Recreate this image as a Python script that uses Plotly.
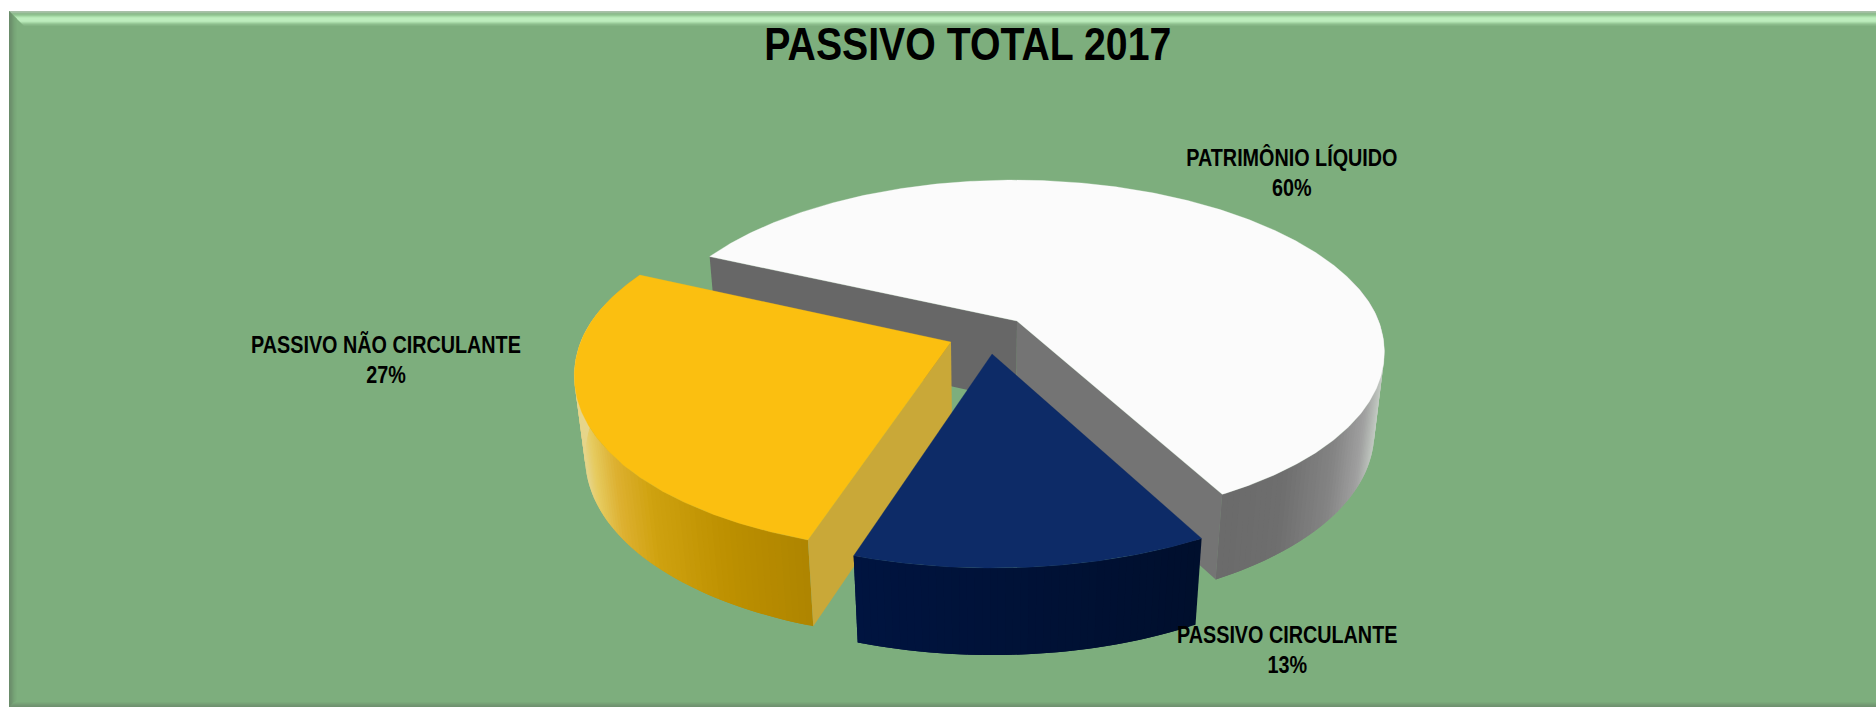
import numpy as np
import plotly.graph_objects as go

# ---- data ----
title_text = "PASSIVO TOTAL 2017"
categories = ["PATRIMÔNIO LÍQUIDO", "PASSIVO CIRCULANTE", "PASSIVO NÃO CIRCULANTE"]
values = [60, 13, 27]

# ---- layout / style ----
W, H = 1876, 707
FONT = "Liberation Sans, Arial, sans-serif"
BG = "#7DAE7D"
label_pos = [(1292, 172), (1287, 650), (386, 359)]
top_colors = ["#FBFBFB", "#0D2B67", "#FBBF10"]
inner_colors = ["#747474", None, "#C9A838"]
back_inner_color = "#676767"
side_stops = [
    [(1213, "#6a6a6a"), (1280, "#6e6e6e"), (1330, "#848484"), (1360, "#a0a0a0"), (1378, "#c4ccc4")],
    [(857, "#001440"), (1195, "#000f2d")],
    [(584, "#E6D58A"), (595, "#E6CB60"), (620, "#DDB030"), (655, "#CFA20F"), (727, "#BD9000"), (812, "#AE8400")],
]
# pie centres on the tilted plane (explosion offsets)
centres = [(0.01287, 0.02622), (0.0005, -0.00353), (-0.0195, 0.00712)]
radius_scale = [0.992, 1.0, 1.0]
START_DEG = 154.6
RX, RY_BACK, RY_FRONT, DEPTH, TAPER = 0.1805, 0.147, 0.1626, 0.048, 0.035
# camera
CX, CY, F = 991.0, 350.0, 2064.0
TILT = np.radians(33.2)
S, C = np.sin(TILT), np.cos(TILT)


def project(X, Y, Z=0.0):
    X, Y = np.asarray(X, float), np.asarray(Y, float)
    yc = Y * S + Z * C
    d = 1.0 + Y * C - Z * S
    return CX + F * X / d, CY - F * yc / d


def hex2rgb(h):
    return np.array([int(h[i:i + 2], 16) for i in (1, 3, 5)], float)


def ramp(stops, x):
    xs = [s[0] for s in stops]
    rgb = np.array([hex2rgb(s[1]) for s in stops])
    c = [np.interp(x, xs, rgb[:, k]) for k in range(3)]
    return "rgb(%d,%d,%d)" % tuple(round(v) for v in c)


def poly(fig, xs, ys, color, lw=0.0):
    fig.add_trace(go.Scatter(
        x=list(xs) + [xs[0]], y=list(ys) + [ys[0]], mode="lines", fill="toself",
        fillcolor=color, line=dict(color=color, width=lw), hoverinfo="skip", showlegend=False))


fig = go.Figure()

# angles derived from the values (clockwise from START_DEG)
total = sum(values)
sweeps = [v / total * 360.0 for v in values]
a0 = START_DEG
arcs = []
for sw in sweeps:
    arcs.append((a0, a0 - sw))
    a0 -= sw


def rim(i, ang):
    cx, cy = centres[i]
    r = np.radians(ang)
    sn = np.sin(r)
    k = radius_scale[i]
    return cx + k * RX * np.cos(r) * (1 - TAPER * sn), cy + k * np.where(sn > 0, RY_BACK, RY_FRONT) * sn


def wall(i, p, q, col):
    X0, Y0 = rim(i, p)
    X1, Y1 = rim(i, q)
    xt, yt = project([X0, X1], [Y0, Y1], 0.0)
    xb, yb = project([X1, X0], [Y1, Y0], -DEPTH)
    poly(fig, [xt[0], xt[1], xb[0], xb[1]], [yt[0], yt[1], yb[0], yb[1]], col)


def flat_wall(i, ang, col):
    cx, cy = centres[i]
    X, Y = rim(i, ang)
    xt, yt = project([cx, X], [cy, Y], 0.0)
    xb, yb = project([X, cx], [Y, cy], -DEPTH)
    poly(fig, [xt[0], xt[1], xb[0], xb[1]], [yt[0], yt[1], yb[0], yb[1]], col)


def draw_slice(i):
    a, b = arcs[i]
    cx, cy = centres[i]
    # outer wall: painted with overlap so no seams show
    n = int(abs(a - b)) + 1
    angs = np.linspace(a, b, n + 1)
    step = abs(a - b) / n
    for p, q in zip(angs[:-1], angs[1:]):
        if not (-206 <= (p + q) / 2 <= 15):
            continue
        X0, Y0 = rim(i, (p + q) / 2)
        sx, _ = project([X0], [Y0], -DEPTH / 2)
        wall(i, p, max(q - step, b), ramp(side_stops[i], float(sx[0])))
    # straight inner walls
    if i == 0:
        flat_wall(i, a, back_inner_color)
        flat_wall(i, b, inner_colors[0])
    if i == 2:
        flat_wall(i, a, inner_colors[2])
    # top face
    angs = np.linspace(a, b, int(abs(a - b)) * 2 + 1)
    X, Y = rim(i, angs)
    X = np.concatenate([[cx], X])
    Y = np.concatenate([[cy], Y])
    xs, ys = project(X, Y, 0.0)
    poly(fig, xs, ys, top_colors[i], 0.3)


for i in (0, 2, 1):
    draw_slice(i)

# ---- frame with bevel ----
shapes = [dict(type="rect", x0=9, x1=W, y0=11, y1=H, fillcolor=BG, line_width=0, layer="below")]
top_rows = [(11, "#A8C0A8"), (12, "#A0C0A0"), (13, "#8FBB8F"), (14, "#8FC08F"), (15, "#98CC98"), (16, "#A8DCA8"),
            (17, "#B6E8B6"), (18, "#BDEDBD"), (19, "#BDEDBD"), (20, "#BDEDBD"), (21, "#B8E8B8"), (22, "#A8DAA8"),
            (23, "#98CA98"), (24, "#8CBC8C"), (25, "#84B584")]
for y, col in top_rows:
    shapes.append(dict(type="path", path=f"M {9 + y - 11} {y} L {W} {y} L {W} {y + 1} L {9 + y - 10} {y + 1} Z",
                       fillcolor=col, line_width=0, layer="below"))
left_cols = [(9, "#6A8C6A"), (10, "#6C906C"), (11, "#6E946E"), (12, "#719A71"), (13, "#74A074"), (14, "#77A577"),
             (15, "#79A879"), (16, "#7BAB7B")]
for x, col in left_cols:
    shapes.append(dict(type="path", path=f"M {x} {11 + x - 9} L {x + 1} {11 + x - 8} L {x + 1} {H - (x - 9)} L {x} {H - (x - 10)} Z",
                       fillcolor=col, line_width=0, layer="below"))
bottom_rows = [(702, "#7AA97A"), (703, "#77A377"), (704, "#749C74"), (705, "#719671"), (706, "#6F926F")]
for y, col in bottom_rows:
    off = 9 + (706 - y)
    shapes.append(dict(type="path", path=f"M {off + 1} {y} L {W} {y} L {W} {y + 1} L {off} {y + 1} Z",
                       fillcolor=col, line_width=0, layer="below"))

annotations = [dict(x=968, y=43, text=f"<b>{title_text}</b>", showarrow=False, xref="x", yref="y",
                    font=dict(family=FONT, size=47, color="black"))]
for (x, y), cat, val in zip(label_pos, categories, values):
    annotations.append(dict(x=x, y=y, text=f"<b>{cat}<br>{val}%</b>", showarrow=False, xref="x", yref="y",
                            align="center", font=dict(family=FONT, size=23, color="black")))

fig.update_layout(
    width=W, height=H, margin=dict(l=0, r=0, t=0, b=0), autosize=False,
    paper_bgcolor="white", plot_bgcolor="white", showlegend=False,
    xaxis=dict(range=[0, W], visible=False, fixedrange=True),
    yaxis=dict(range=[H, 0], visible=False, fixedrange=True),
    shapes=shapes, annotations=annotations,
)
# narrow the bold sans text horizontally (no condensed face is installed)
post = """
document.body.style.margin='0';document.body.style.overflow='hidden';
function narrowText(){
  document.querySelectorAll('.annotation-text').forEach(function(t,i){
    var b=t.getBBox(), c=b.x+b.width/2, s=(i===0)?0.835:0.86;
    t.setAttribute('transform','translate('+c+' 0) scale('+s+' 1) translate('+(-c)+' 0)');
  });
}
narrowText();setTimeout(narrowText,50);setTimeout(narrowText,300);
"""
fig.write_html("out.html", config=dict(displayModeBar=False), post_script=post)
